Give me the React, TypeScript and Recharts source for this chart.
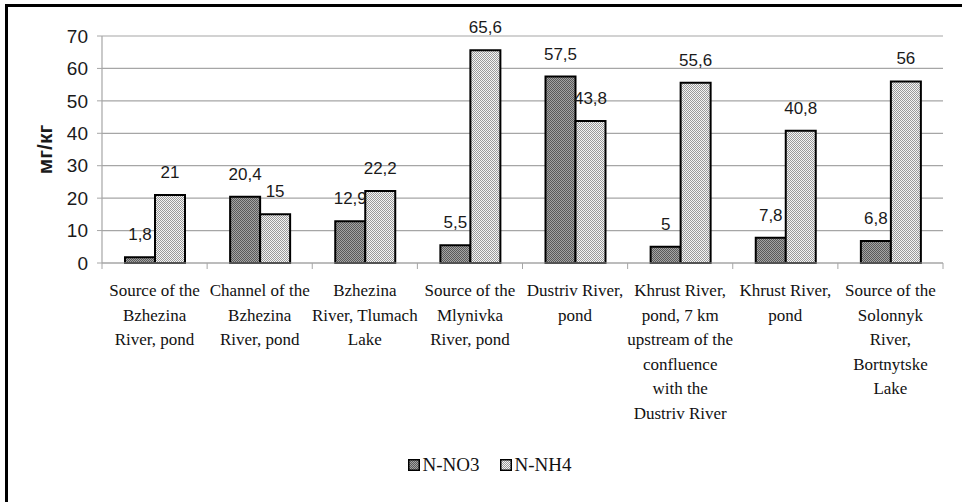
import React from 'react';
import { BarChart, Bar, XAxis, YAxis, CartesianGrid, Legend, LabelList } from 'recharts';

// Sampling sites; "\n" marks where the axis label wraps
const categories = [
  'Source of the\nBzhezina\nRiver, pond',
  'Channel of the\nBzhezina\nRiver, pond',
  'Bzhezina\nRiver, Tlumach\nLake',
  'Source of the\nMlynivka\nRiver, pond',
  'Dustriv River,\npond',
  'Khrust River,\npond, 7 km\nupstream of the\nconfluence\nwith the\nDustriv River',
  'Khrust River,\npond',
  'Source of the\nSolonnyk\nRiver,\nBortnytske\nLake',
];

const nitrateValues = [1.8, 20.4, 12.9, 5.5, 57.5, 5, 7.8, 6.8];
const ammoniumValues = [21, 15, 22.2, 65.6, 43.8, 55.6, 40.8, 56];
const yTicks = [0, 10, 20, 30, 40, 50, 60, 70];

const data = categories.map((category, i) => ({
  category,
  no3: nitrateValues[i],
  nh4: ammoniumValues[i],
}));

const SANS = '"Liberation Sans", Arial, sans-serif';
const SERIF = '"Liberation Serif", "Times New Roman", serif';
const GRID = '#a6a6a6';

const formatValue = (v: number) => String(v).replace('.', ',');

// fine dither fills: dark for nitrate, light for ammonium
function PatternDefs({ prefix }: { prefix: string }) {
  return (
    <defs>
      <pattern id={`${prefix}-no3`} patternUnits="userSpaceOnUse" width={2} height={2}>
        <rect width={2} height={2} fill="#a4a4a4" />
        <rect width={1} height={1} fill="#5a5a5a" />
        <rect x={1} y={1} width={1} height={1} fill="#5a5a5a" />
      </pattern>
      <pattern id={`${prefix}-nh4`} patternUnits="userSpaceOnUse" width={2} height={2}>
        <rect width={2} height={2} fill="#f4f4f4" />
        <rect width={1} height={1} fill="#9a9a9a" />
        <rect x={1} y={1} width={1} height={1} fill="#9a9a9a" />
      </pattern>
    </defs>
  );
}

type TickProps = {
  x?: number;
  y?: number;
  index?: number;
  payload?: { value: string; offset?: number };
};

function SiteTick({ x = 0, y = 0, index = 0, payload }: TickProps) {
  const lines = (payload?.value ?? '').split('\n');
  const half = payload?.offset ?? 52;
  return (
    <g>
      <line x1={x - half} x2={x - half} y1={y} y2={y + 6} stroke={GRID} />
      {index === categories.length - 1 && (
        <line x1={x + half} x2={x + half} y1={y} y2={y + 6} stroke={GRID} />
      )}
      <text textAnchor="middle" fontFamily={SERIF} fontSize={17} fill="#111">
        {lines.map((line, i) => (
          <tspan key={i} x={x} y={y + 33 + i * 24.6}>
            {line}
          </tspan>
        ))}
      </text>
    </g>
  );
}

function ChartLegend() {
  const items = [
    { key: 'no3', label: 'N-NO3' },
    { key: 'nh4', label: 'N-NH4' },
  ];
  return (
    <div style={{ display: 'flex', justifyContent: 'center', gap: 20, paddingLeft: 36, height: 24, alignItems: 'center' }}>
      <svg width={0} height={0} style={{ position: 'absolute' }}>
        <PatternDefs prefix="lg" />
      </svg>
      {items.map((item) => (
        <div key={item.key} style={{ display: 'flex', alignItems: 'center' }}>
          <svg width={12} height={12} style={{ marginRight: 3 }}>
            <rect x={0.75} y={0.75} width={10.5} height={10.5} fill={`url(#lg-${item.key})`} stroke="#000" strokeWidth={1.5} />
          </svg>
          <span style={{ fontFamily: SERIF, fontSize: 19, color: '#111' }}>{item.label}</span>
        </div>
      ))}
    </div>
  );
}

export default function App() {
  return (
    <div style={{ position: 'absolute', left: 0, top: 0, width: 962, height: 502, background: '#fff', overflow: 'hidden' }}>
      <BarChart
        width={962}
        height={502}
        data={data}
        margin={{ top: 36, right: 19, left: 0, bottom: 25 }}
        barSize={30}
        barGap={0}
      >
        <PatternDefs prefix="bar" />
        <CartesianGrid vertical={false} stroke={GRID} strokeWidth={1.2} />
        <XAxis
          dataKey="category"
          interval={0}
          height={190}
          tickLine={false}
          tickSize={0}
          tickMargin={0}
          axisLine={{ stroke: GRID, strokeWidth: 1.2 }}
          tick={<SiteTick />}
        />
        <YAxis
          width={102}
          domain={[0, 70]}
          ticks={yTicks}
          interval={0}
          tickSize={5}
          tickMargin={9}
          axisLine={{ stroke: GRID, strokeWidth: 1.2 }}
          tickLine={{ stroke: GRID }}
          tick={{ fontFamily: SANS, fontSize: 19, fill: '#1a1a1a' }}
          label={{
            value: 'мг/кг',
            angle: -90,
            position: 'center',
            dx: -6,
            style: { fontFamily: SANS, fontSize: 21, fontWeight: 700, fill: '#1a1a1a' },
          }}
        />
        <Legend verticalAlign="bottom" content={<ChartLegend />} />
        <Bar dataKey="no3" name="N-NO3" fill="url(#bar-no3)" stroke="#000" strokeWidth={2} isAnimationActive={false}>
          <LabelList
            dataKey="no3"
            position="top"
            offset={17}
            formatter={(v: number) => formatValue(v)}
            style={{ fontFamily: SANS, fontSize: 17, fill: '#1a1a1a' }}
          />
        </Bar>
        <Bar dataKey="nh4" name="N-NH4" fill="url(#bar-nh4)" stroke="#000" strokeWidth={2} isAnimationActive={false}>
          <LabelList
            dataKey="nh4"
            position="top"
            offset={17}
            formatter={(v: number) => formatValue(v)}
            style={{ fontFamily: SANS, fontSize: 17, fill: '#1a1a1a' }}
          />
        </Bar>
      </BarChart>
      <div
        style={{
          position: 'absolute',
          left: 5,
          top: 4,
          width: 962,
          height: 502,
          borderTop: '3px solid #000',
          borderLeft: '3px solid #000',
          pointerEvents: 'none',
        }}
      />
    </div>
  );
}
